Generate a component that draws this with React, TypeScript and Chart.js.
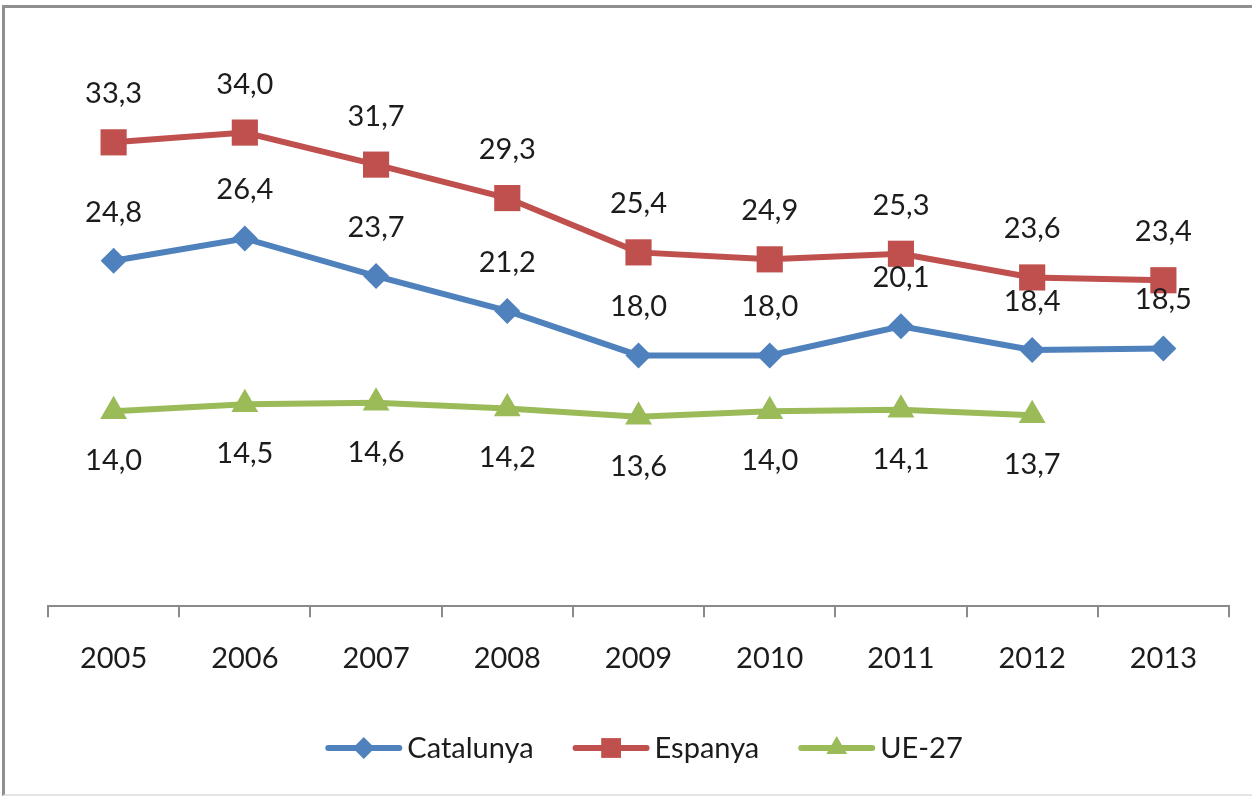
import React, { useEffect, useRef } from "react";
import { Chart, registerables } from "chart.js";

Chart.register(...registerables);

const years = ["2005", "2006", "2007", "2008", "2009", "2010", "2011", "2012", "2013"];
const catalunya = [24.8, 26.4, 23.7, 21.2, 18.0, 18.0, 20.1, 18.4, 18.5];
const espanya = [33.3, 34.0, 31.7, 29.3, 25.4, 24.9, 25.3, 23.6, 23.4];
const ue27 = [14.0, 14.5, 14.6, 14.2, 13.6, 14.0, 14.1, 13.7, null];

const seriesNames = ["Catalunya", "Espanya", "UE-27"];
const seriesColors = ["#4F81BD", "#C0504D", "#9BBB59"];
const seriesMarkers = ["rectRot", "rect", "triangle"];
const markerRadius = [13, 18.5, 15.5];
const legendMarkerRadius = [11, 14, 12];
const labelBelow = [false, false, true];

const FONT = "Lato, 'Open Sans', sans-serif";
const TEXT_COLOR = "#1c1c1c";

function drawMarker(ctx: CanvasRenderingContext2D, kind: string, x: number, y: number, r: number) {
  ctx.beginPath();
  if (kind === "rectRot") {
    ctx.moveTo(x - r, y);
    ctx.lineTo(x, y - r);
    ctx.lineTo(x + r, y);
    ctx.lineTo(x, y + r);
  } else if (kind === "rect") {
    const s = r * Math.SQRT1_2;
    ctx.rect(x - s, y - s, 2 * s, 2 * s);
  } else {
    const h = r * 1.5;
    const w = r * Math.sqrt(3);
    ctx.moveTo(x, y - h / 2 - r * 0.25);
    ctx.lineTo(x + w / 2, y + h / 2 - r * 0.25);
    ctx.lineTo(x - w / 2, y + h / 2 - r * 0.25);
  }
  ctx.closePath();
  ctx.fill();
}

const valueLabelPlugin = {
  id: "valueLabels",
  afterDatasetsDraw(chart: any) {
    const ctx = chart.ctx as CanvasRenderingContext2D;
    ctx.save();
    ctx.font = `29px ${FONT}`;
    ctx.fillStyle = TEXT_COLOR;
    ctx.textAlign = "center";
    ctx.textBaseline = "alphabetic";
    chart.data.datasets.forEach((ds: any, i: number) => {
      const meta = chart.getDatasetMeta(i);
      meta.data.forEach((pt: any, j: number) => {
        const v = ds.data[j];
        if (v == null) return;
        const txt = v.toFixed(1).replace(".", ",");
        const y = labelBelow[i] ? pt.y + 59 : pt.y - 39;
        ctx.fillText(txt, pt.x, y);
      });
    });
    ctx.restore();
  },
};

const legendPlugin = {
  id: "customLegend",
  afterDraw(chart: any) {
    const ctx = chart.ctx as CanvasRenderingContext2D;
    ctx.save();
    ctx.font = `29px ${FONT}`;
    const lineLen = 77;
    const gapText = 5;
    const gapItem = 39;
    const widths = seriesNames.map((n) => ctx.measureText(n).width);
    const total =
      widths.reduce((a, w) => a + lineLen + gapText + w, 0) + gapItem * (seriesNames.length - 1);
    const centerX = 644;
    const yLine = 748;
    let x = centerX - total / 2;
    seriesNames.forEach((name, i) => {
      ctx.strokeStyle = seriesColors[i];
      ctx.fillStyle = seriesColors[i];
      ctx.lineWidth = 6;
      ctx.lineCap = "round";
      ctx.beginPath();
      ctx.moveTo(x + 3, yLine);
      ctx.lineTo(x + lineLen - 3, yLine);
      ctx.stroke();
      drawMarker(ctx, seriesMarkers[i], x + lineLen / 2, yLine, legendMarkerRadius[i]);
      ctx.fillStyle = TEXT_COLOR;
      ctx.textAlign = "left";
      ctx.textBaseline = "alphabetic";
      ctx.fillText(name, x + lineLen + gapText, yLine + 10);
      x += lineLen + gapText + widths[i] + gapItem;
    });
    ctx.restore();
  },
};

export default function App() {
  const canvasRef = useRef<HTMLCanvasElement | null>(null);

  useEffect(() => {
    if (!canvasRef.current) return;
    const seriesData = [catalunya, espanya, ue27];
    const chart = new Chart(canvasRef.current, {
      type: "line",
      data: {
        labels: years,
        datasets: seriesNames.map((name, i) => ({
          label: name,
          data: seriesData[i],
          borderColor: seriesColors[i],
          backgroundColor: seriesColors[i],
          borderWidth: 6,
          pointStyle: seriesMarkers[i] as any,
          pointRadius: markerRadius[i],
          pointHoverRadius: markerRadius[i],
          pointBorderWidth: 0,
          pointBackgroundColor: seriesColors[i],
          pointBorderColor: seriesColors[i],
          spanGaps: false,
          tension: 0,
          clip: false as any,
        })),
      },
      options: {
        responsive: false,
        animation: false,
        events: [],
        layout: { padding: { left: 48, right: 23, top: 49, bottom: 97 } },
        plugins: {
          legend: { display: false },
          title: { display: false },
          tooltip: { enabled: false },
        },
        scales: {
          x: {
            type: "category",
            offset: true,
            grid: {
              display: true,
              offset: true,
              drawOnChartArea: false,
              drawTicks: true,
              tickLength: 11,
              color: "#8a8a8a",
              lineWidth: 2,
            },
            border: { display: true, color: "#8a8a8a", width: 2 },
            ticks: {
              font: { family: FONT, size: 29 },
              color: TEXT_COLOR,
              padding: 24,
              maxRotation: 0,
              autoSkip: false,
            },
          },
          y: {
            display: false,
            min: 0,
            max: 40,
          },
        },
      },
      plugins: [valueLabelPlugin, legendPlugin],
    });
    return () => chart.destroy();
  }, []);

  return (
    <div
      style={{
        position: "absolute",
        left: 0,
        top: 0,
        width: 1252,
        height: 797,
        background: "#ffffff",
        overflow: "hidden",
      }}
    >
      <div
        style={{
          position: "absolute",
          left: 2,
          top: 5,
          width: 1280,
          height: 786,
          borderLeft: "3px solid #8f8f8f",
          borderTop: "3px solid #8f8f8f",
          borderBottom: "2px solid #e4e4e4",
        }}
      />
      <canvas
        ref={canvasRef}
        width={1252}
        height={797}
        style={{ position: "absolute", left: 0, top: 0, width: 1252, height: 797 }}
      />
    </div>
  );
}
